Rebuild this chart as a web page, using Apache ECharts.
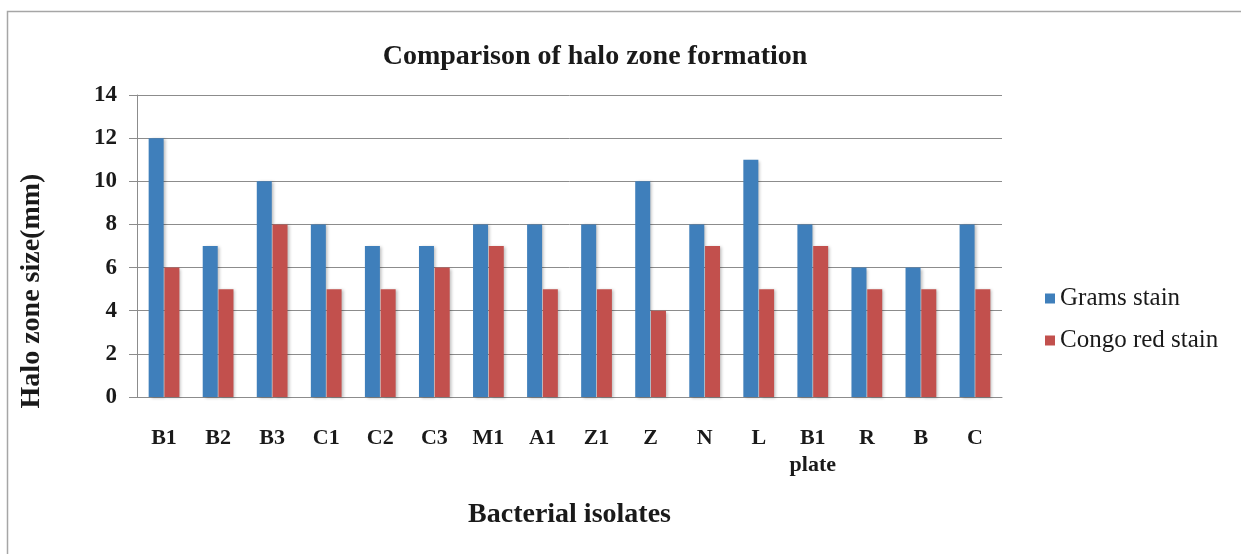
<!DOCTYPE html>
<html>
<head>
<meta charset="utf-8">
<script src="https://cdn.jsdelivr.net/npm/echarts@6/dist/echarts.min.js"></script>
<style>
  html, body { margin: 0; padding: 0; background: #fff; }
  #chart { width: 1241px; height: 554px; }
</style>
</head>
<body>
<div id="chart"></div>
<script>
// data
const isolates = ['B1', 'B2', 'B3', 'C1', 'C2', 'C3', 'M1', 'A1', 'Z1', 'Z', 'N', 'L', 'B1\nplate', 'R', 'B', 'C']
const gramsStain = [12, 7, 10, 8, 7, 7, 8, 8, 8, 10, 8, 11, 8, 6, 6, 8]
const congoRedStain = [6, 5, 8, 5, 5, 6, 7, 5, 5, 4, 7, 5, 7, 5, 5, 5]
const yTicks = { min: 0, max: 14, interval: 2 }

const serif = '"Liberation Serif", "DejaVu Serif", serif'
const shadow = {
  shadowColor: 'rgba(0,0,0,0.25)',
  shadowBlur: 3,
  shadowOffsetX: 2,
  shadowOffsetY: 1
}

const chart = echarts.init(document.getElementById('chart'))
chart.setOption({
  animation: false,
  backgroundColor: '#fff',
  title: {
    text: 'Comparison of halo zone formation',
    left: 590,
    textAlign: 'center',
    top: 38,
    textStyle: { fontFamily: serif, fontSize: 28, fontWeight: 'bold', color: '#1a1a1a' }
  },
  graphic: [
    {
      type: 'rect',
      shape: { x: 7.5, y: 11.5, width: 1300, height: 600 },
      style: { fill: 'none', stroke: '#a6a6a6', lineWidth: 1.5 },
      silent: true
    },
    {
      type: 'text',
      x: 32,
      y: 291,
      rotation: Math.PI / 2,
      style: {
        text: 'Halo zone size(mm)',
        fontFamily: serif,
        fontSize: 28,
        fontWeight: 'bold',
        fill: '#1a1a1a',
        align: 'center',
        verticalAlign: 'middle'
      }
    }
  ],
  legend: {
    orient: 'vertical',
    left: 1040,
    top: 281,
    itemWidth: 10,
    itemHeight: 10,
    itemGap: 17,
    icon: 'rect',
    textStyle: { fontFamily: serif, fontSize: 25, color: '#1a1a1a' },
    data: ['Grams stain', 'Congo red stain']
  },
  grid: { left: 137, right: 239, top: 95, bottom: 157 },
  xAxis: {
    type: 'category',
    data: isolates,
    name: 'Bacterial isolates',
    nameLocation: 'middle',
    nameGap: 104,
    nameTextStyle: { fontFamily: serif, fontSize: 28, fontWeight: 'bold', color: '#1a1a1a' },
    axisLine: { lineStyle: { color: '#8c8c8c', width: 1 } },
    axisTick: { show: false },
    axisLabel: {
      margin: 28,
      fontFamily: serif,
      fontSize: 22,
      fontWeight: 'bold',
      color: '#1a1a1a',
      lineHeight: 27,
      interval: 0
    }
  },
  yAxis: {
    type: 'value',
    min: yTicks.min,
    max: yTicks.max,
    interval: yTicks.interval,
    axisLine: { show: true, lineStyle: { color: '#8c8c8c', width: 1 } },
    axisTick: { show: true, length: 8, inside: false, lineStyle: { color: '#8c8c8c' } },
    splitLine: { lineStyle: { color: '#8c8c8c', width: 1 } },
    axisLabel: {
      margin: 20,
      fontFamily: serif,
      fontSize: 23,
      fontWeight: 'bold',
      color: '#1a1a1a'
    }
  },
  series: [
    {
      name: 'Grams stain',
      type: 'bar',
      data: gramsStain,
      barWidth: 15,
      barGap: '5%',
      itemStyle: Object.assign({ color: '#3f7fbb' }, shadow)
    },
    {
      name: 'Congo red stain',
      type: 'bar',
      data: congoRedStain,
      barWidth: 15,
      itemStyle: Object.assign({ color: '#c2504d' }, shadow)
    }
  ]
})
</script>
</body>
</html>
